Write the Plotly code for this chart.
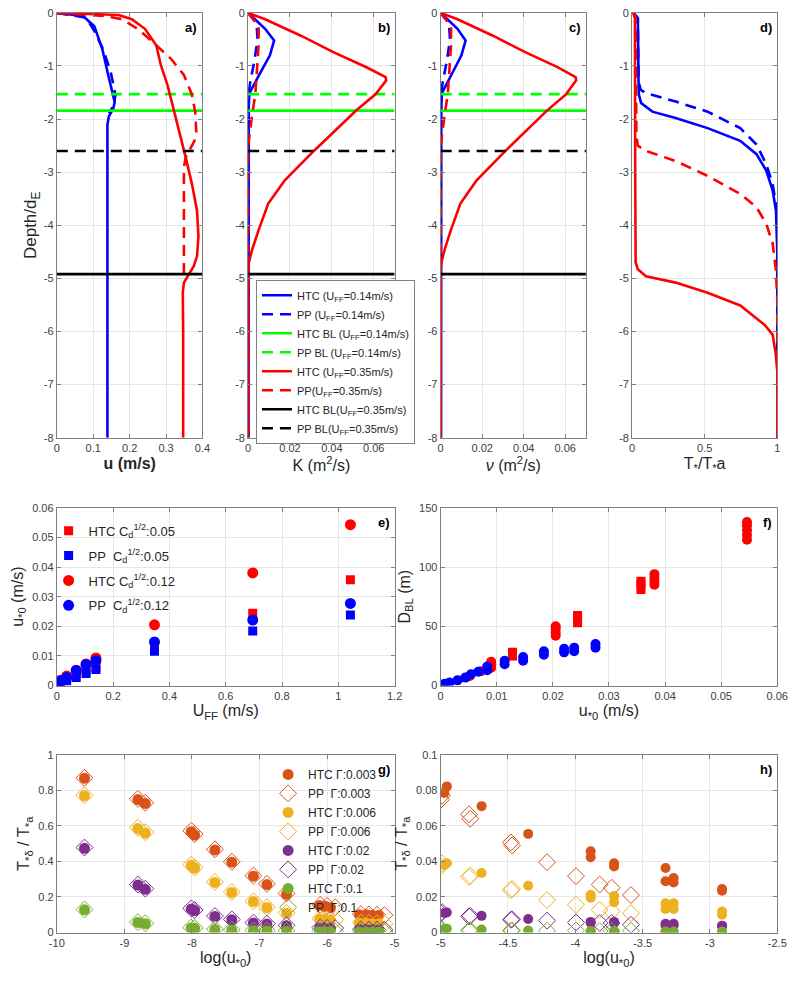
import plotly.graph_objects as go

# ---------------- DATA ----------------
# Panel a: velocity profiles u (m/s) vs Depth/dE
a_htc014_u = [0, 0.072, 0.103, 0.125, 0.139, 0.152, 0.159, 0.155, 0.143, 0.139, 0.139, 0.139]
a_htc014_d = [0, -0.06, -0.25, -0.68, -1.11, -1.45, -1.68, -1.80, -1.95, -2.10, -5.0, -8.0]
a_pp014_u = [0, 0.080, 0.103, 0.128, 0.148, 0.161, 0.157, 0.143]
a_pp014_d = [0, -0.09, -0.34, -0.70, -1.11, -1.54, -1.73, -1.89]
a_htc035_u = [0, 0.170, 0.206, 0.242, 0.273, 0.286, 0.304, 0.318, 0.327, 0.340, 0.354, 0.371,
              0.385, 0.389, 0.385, 0.376, 0.362, 0.349, 0.346, 0.347, 0.347]
a_htc035_d = [0, -0.04, -0.12, -0.30, -0.61, -0.99, -1.36, -1.73, -1.98, -2.35, -2.72, -3.22,
              -3.72, -4.21, -4.58, -4.77, -4.92, -5.08, -5.27, -6.0, -8.0]
a_pp035_u = [0, 0.134, 0.179, 0.224, 0.273, 0.313, 0.349, 0.371, 0.380, 0.383, 0.378, 0.362,
             0.354, 0.349, 0.349]
a_pp035_d = [0, -0.06, -0.12, -0.31, -0.61, -0.86, -1.17, -1.54, -1.86, -2.23, -2.41, -2.60,
             -2.72, -2.91, -4.95]

# Boundary-layer depths (Depth/dE): HTC 0.14, PP 0.14, HTC 0.35, PP 0.35
bl_depths = [-1.84, -1.53, -4.92, -2.60]

# Panel b: eddy diffusivity K (m2/s)
b_htc014_k = [0, 0.0034, 0.0081, 0.0124, 0.0104, 0.0065, 0.0027, 0.0006, 0.0003, 0.0002, 0.0002]
b_htc014_d = [0, -0.12, -0.30, -0.52, -0.80, -1.08, -1.36, -1.51, -1.75, -4.0, -8.0]
b_pp014_k = [0, 0.0040, 0.0045, 0.0030, 0.0010, 0.0001, 0, 0]
b_pp014_d = [0, -0.20, -0.50, -0.90, -1.30, -1.55, -4.0, -8.0]
b_htc035_k = [0, 0.0081, 0.0252, 0.0407, 0.0563, 0.0657, 0.0660, 0.0610, 0.0516, 0.0314,
              0.0174, 0.0096, 0.0050, 0.0019, 0.0003, 0, 0]
b_htc035_d = [0, -0.12, -0.43, -0.74, -1.02, -1.21, -1.27, -1.53, -1.84, -2.60,
              -3.16, -3.59, -4.09, -4.46, -4.71, -4.80, -8.0]
b_pp035_k = [0, 0.0050, 0.0050, 0.0042, 0.0034, 0.0019, 0.0005, 0, 0]
b_pp035_d = [0, -0.24, -0.61, -1.10, -1.54, -1.92, -2.35, -2.50, -8.0]

# Panel c: viscosity nu (m2/s)
c_htc014_nu = [0, 0.0034, 0.0081, 0.0120, 0.0100, 0.0063, 0.0026, 0.0006, 0.0003, 0.0002, 0.0002]
c_htc014_d = [0, -0.12, -0.30, -0.52, -0.80, -1.08, -1.36, -1.51, -1.75, -4.0, -8.0]
c_pp014_nu = [0, 0.0040, 0.0045, 0.0030, 0.0010, 0.0001, 0, 0]
c_pp014_d = [0, -0.20, -0.50, -0.90, -1.30, -1.55, -4.0, -8.0]
c_htc035_nu = [0, 0.0081, 0.0252, 0.0407, 0.0563, 0.0650, 0.0653, 0.0605, 0.0512, 0.0312,
               0.0172, 0.0095, 0.0049, 0.0019, 0.0003, 0, 0]
c_htc035_d = [0, -0.12, -0.43, -0.74, -1.02, -1.21, -1.27, -1.53, -1.84, -2.60,
              -3.16, -3.59, -4.09, -4.46, -4.71, -4.80, -8.0]
c_pp035_nu = [0, 0.0050, 0.0050, 0.0042, 0.0034, 0.0019, 0.0005, 0, 0]
c_pp035_d = [0, -0.24, -0.61, -1.10, -1.54, -1.92, -2.35, -2.50, -8.0]

# Panel d: T*/T*a
d_htc014_t = [0.011, 0.040, 0.045, 0.047, 0.063, 0.14, 0.30, 0.52, 0.745, 0.857, 0.924, 0.968, 0.991, 0.997, 1.0, 1.0]
d_htc014_d = [0, -0.10, -1.30, -1.54, -1.70, -1.86, -1.98, -2.17, -2.41, -2.66, -2.97, -3.34, -3.72, -4.09, -4.5, -8.0]
d_pp014_t = [0.011, 0.040, 0.045, 0.060, 0.096, 0.30, 0.52, 0.745, 0.857, 0.924, 0.968, 0.990, 1.0, 1.0]
d_pp014_d = [0, -0.10, -1.30, -1.45, -1.51, -1.67, -1.86, -2.17, -2.48, -2.85, -3.22, -3.60, -4.0, -8.0]
d_htc035_t = [0.007, 0.020, 0.022, 0.025, 0.040, 0.096, 0.30, 0.52, 0.745, 0.857, 0.915, 0.968, 0.99, 1.0, 1.0]
d_htc035_d = [0, -0.10, -3.0, -4.70, -4.83, -4.96, -5.08, -5.27, -5.51, -5.76, -5.88, -6.06, -6.44, -6.75, -8.0]
d_pp035_t = [0.015, 0.025, 0.030, 0.040, 0.096, 0.30, 0.52, 0.745, 0.857, 0.924, 0.968, 0.99, 1.0, 1.0]
d_pp035_d = [0, -0.10, -2.30, -2.50, -2.60, -2.79, -3.07, -3.41, -3.66, -3.97, -4.34, -4.83, -5.4, -8.0]

# Panel e: u*0 vs UFF
e_uff = [0.0035, 0.007, 0.014, 0.035, 0.069, 0.104, 0.139, 0.347, 0.696, 1.043]
e_htc_005 = [0.0003, 0.0006, 0.0011, 0.0023, 0.0041, 0.0051, 0.0061, 0.0132, 0.0244, 0.0357]
e_pp_005 = [0.0003, 0.0005, 0.0010, 0.0016, 0.0027, 0.0041, 0.0054, 0.0116, 0.0184, 0.0238]
e_htc_012 = [0.0006, 0.0011, 0.0018, 0.0032, 0.0052, 0.0073, 0.0093, 0.0205, 0.0380, 0.0543]
e_pp_012 = [0.0005, 0.0010, 0.0016, 0.0027, 0.0051, 0.0071, 0.0084, 0.0147, 0.0221, 0.0277]

# Panel f: D_BL vs u*0
f_htc_sq_u = [0.0128, 0.0128, 0.0244, 0.0244, 0.0244, 0.0357, 0.0357, 0.0357]
f_htc_sq_d = [25, 28, 53, 56, 59, 81, 85, 88]
f_htc_ci_u = [0.0546, 0.0546, 0.0546, 0.0546, 0.0546, 0.0381, 0.0381, 0.0381, 0.0381,
              0.0205, 0.0205, 0.0205, 0.0205, 0.0090, 0.0090, 0.0090, 0.0072, 0.0052]
f_htc_ci_d = [123, 127, 131, 135, 138, 85, 88, 91, 94, 42, 45, 48, 50, 15, 18, 20, 12, 8]
f_pp_ci_u = [0.0276, 0.0276, 0.0238, 0.0238, 0.0220, 0.0220, 0.0184, 0.0184, 0.0147, 0.0147,
             0.0114, 0.0114, 0.0083, 0.0083, 0.0067, 0.0054, 0.0044, 0.0030, 0.0016, 0.0008, 0.0003]
f_pp_ci_d = [32, 35, 29, 32, 28, 31, 26, 29, 21, 24, 18, 21, 13, 16, 11.7, 9.5, 6.7, 4.4, 2.5, 1.5, 0.8]

# Panel g: T*delta/T*a vs log(u*0)
g_x_htc = [-9.59, -8.80, -8.69, -8.01, -7.96, -7.66, -7.41, -7.09, -6.89, -6.60,
           -6.11, -6.03, -5.95, -5.52, -5.42, -5.33, -5.24]
g_x_pp = [-9.59, -8.80, -8.69, -8.01, -7.96, -7.66, -7.41, -7.09, -6.89, -6.60,
          -6.10, -6.00, -5.88, -5.50, -5.38, -5.26, -5.15]
g_htc_0003 = [0.868, 0.748, 0.726, 0.567, 0.548, 0.465, 0.396, 0.317, 0.270, 0.215,
              0.152, 0.148, 0.140, 0.100, 0.100, 0.098, 0.096]
g_pp_0003 = [0.870, 0.752, 0.730, 0.572, 0.554, 0.468, 0.398, 0.320, 0.274, 0.220,
             0.156, 0.150, 0.142, 0.104, 0.102, 0.100, 0.098]
g_htc_0006 = [0.770, 0.585, 0.560, 0.378, 0.363, 0.282, 0.226, 0.174, 0.141, 0.109,
              0.076, 0.074, 0.070, 0.054, 0.052, 0.050, 0.048]
g_pp_0006 = [0.772, 0.590, 0.565, 0.382, 0.366, 0.285, 0.228, 0.176, 0.143, 0.111,
             0.078, 0.075, 0.072, 0.056, 0.054, 0.052, 0.050]
g_htc_002 = [0.474, 0.267, 0.243, 0.133, 0.124, 0.091, 0.072, 0.054, 0.048, 0.039,
             0.026, 0.025, 0.024, 0.017, 0.016, 0.016, 0.015]
g_pp_002 = [0.478, 0.270, 0.247, 0.136, 0.127, 0.093, 0.074, 0.056, 0.050, 0.041,
            0.028, 0.026, 0.025, 0.018, 0.017, 0.017, 0.016]
g_htc_01 = [0.128, 0.057, 0.050, 0.026, 0.024, 0.017, 0.013, 0.010, 0.009, 0.007,
            0.005, 0.005, 0.005, 0.003, 0.003, 0.003, 0.003]
g_pp_01 = [0.130, 0.059, 0.052, 0.028, 0.026, 0.019, 0.015, 0.012, 0.011, 0.009,
           0.007, 0.006, 0.006, 0.005, 0.005, 0.004, 0.004]

# Panel h: T*delta/T*a vs log(u*0)
h_x_htc = [-4.954, -4.973, -4.696, -4.35, -3.886, -3.886, -3.712, -3.712, -3.33, -3.33,
           -3.27, -3.27, -2.91, -2.91]
h_htc_0003 = [0.0822, 0.0785, 0.0711, 0.0555, 0.0457, 0.0424, 0.0390, 0.0372, 0.0363, 0.0289,
              0.0307, 0.0282, 0.0245, 0.0235]
h_htc_0006 = [0.0390, 0.0380, 0.0335, 0.0263, 0.0211, 0.0196, 0.0205, 0.0170, 0.0165, 0.0133,
              0.0165, 0.0133, 0.0118, 0.0100]
h_htc_002 = [0.0113, 0.0110, 0.0094, 0.0076, 0.0060, 0.0055, 0.0060, 0.0054, 0.0050, 0.0040,
             0.0050, 0.0040, 0.0039, 0.0036]
h_htc_01 = [0.0022, 0.0020, 0.0017, 0.0012, 0.0008, 0.0007, 0.0008, 0.0007, 0.0006, 0.0005,
            0.0006, 0.0005, 0.0005, 0.0004]
h_x_pp = [-4.998, -4.99, -4.79, -4.78, -4.478, -4.47, -4.21, -3.995, -3.819, -3.73, -3.587]
h_pp_0003 = [0.0748, 0.0770, 0.0665, 0.0640, 0.0507, 0.0490, 0.0396, 0.0317, 0.0270, 0.0252, 0.0211]
h_pp_0006 = [0.0374, 0.0390, 0.0313, 0.0320, 0.0239, 0.0245, 0.0183, 0.0156, 0.0128, 0.0118, 0.0109]
h_pp_002 = [0.0109, 0.0115, 0.0091, 0.0094, 0.0072, 0.0075, 0.0067, 0.0057, 0.0054, 0.0054, 0.0044]
h_pp_01 = [0.0015, 0.0018, 0.0012, 0.0014, 0.0011, 0.0012, 0.0010, 0.0012, 0.0009, 0.0009, 0.0010]

# Tick labels
depth_ticks = [0, -1, -2, -3, -4, -5, -6, -7, -8]
g_xticks = [-10, -9, -8, -7, -6, -5]
h_xticks = [-5, -4.5, -4, -3.5, -3, -2.5]

# ---------------- STYLE ----------------
FONT = "Liberation Sans, Arial, sans-serif"
BLUE, RED, GREEN, BLACK = "#0000ff", "#ff0000", "#00ff00", "#000000"
C1, C2, C3, C4 = "#D95319", "#EDB120", "#7E2F8E", "#77AC30"
LW = 2.6
DASH = "11px,7px"

fig = go.Figure()

legend_names = [
    "HTC (U<sub>FF</sub>=0.14m/s)", "PP (U<sub>FF</sub>=0.14m/s)",
    "HTC BL (U<sub>FF</sub>=0.14m/s)", "PP BL (U<sub>FF</sub>=0.14m/s)",
    "HTC (U<sub>FF</sub>=0.35m/s)", "PP(U<sub>FF</sub>=0.35m/s)",
    "HTC BL(U<sub>FF</sub>=0.35m/s)", "PP BL(U<sub>FF</sub>=0.35m/s)",
]

profile_sets = [
    ("x", "y", 0.4, [(a_htc014_u, a_htc014_d), (a_pp014_u, a_pp014_d), (a_htc035_u, a_htc035_d), (a_pp035_u, a_pp035_d)], True),
    ("x2", "y2", 0.07, [(b_htc014_k, b_htc014_d), (b_pp014_k, b_pp014_d), (b_htc035_k, b_htc035_d), (b_pp035_k, b_pp035_d)], True),
    ("x3", "y3", 0.07, [(c_htc014_nu, c_htc014_d), (c_pp014_nu, c_pp014_d), (c_htc035_nu, c_htc035_d), (c_pp035_nu, c_pp035_d)], True),
    ("x4", "y4", 1.0, [(d_htc014_t, d_htc014_d), (d_pp014_t, d_pp014_d), (d_htc035_t, d_htc035_d), (d_pp035_t, d_pp035_d)], False),
]

for xa, ya, xmax, profs, with_bl in profile_sets:
    show = (xa == "x2")
    order = [
        ("prof", 0, BLUE, "solid", 0),
        ("prof", 1, BLUE, DASH, 1),
        ("bl", 0, GREEN, "solid", 2),
        ("bl", 1, GREEN, DASH, 3),
        ("prof", 2, RED, "solid", 4),
        ("prof", 3, RED, DASH, 5),
        ("bl", 2, BLACK, "solid", 6),
        ("bl", 3, BLACK, DASH, 7),
    ]
    for kind, idx, col, dash, li in order:
        if kind == "prof":
            xs, ys = profs[idx]
        else:
            if not with_bl:
                continue
            xs, ys = [0, xmax], [bl_depths[idx], bl_depths[idx]]
        fig.add_trace(go.Scatter(
            x=xs, y=ys, mode="lines", xaxis=xa, yaxis=ya,
            line=dict(color=col, width=LW, dash=dash),
            name=legend_names[li], showlegend=show, legend="legend",
        ))

# Panel e
e_series = [
    ("HTC C<sub>d</sub><sup>1/2</sup>:0.05", e_htc_005, RED, "square", 9),
    ("PP  C<sub>d</sub><sup>1/2</sup>:0.05", e_pp_005, BLUE, "square", 9),
    ("HTC C<sub>d</sub><sup>1/2</sup>:0.12", e_htc_012, RED, "circle", 11),
    ("PP  C<sub>d</sub><sup>1/2</sup>:0.12", e_pp_012, BLUE, "circle", 11),
]
for k, (nm, ys, col, sym, sz) in enumerate(e_series):
    fig.add_trace(go.Scatter(x=e_uff, y=ys, mode="markers", xaxis="x5", yaxis="y5",
                             marker=dict(color=col, symbol=sym, size=sz, line=dict(width=0)),
                             name=nm, legend="legend2", legendgroup="e%d" % k))

# Panel f
fig.add_trace(go.Scatter(x=f_htc_sq_u, y=f_htc_sq_d, mode="markers", xaxis="x6", yaxis="y6",
                         marker=dict(color=RED, symbol="square", size=9, line=dict(width=0)), showlegend=False))
fig.add_trace(go.Scatter(x=f_htc_ci_u, y=f_htc_ci_d, mode="markers", xaxis="x6", yaxis="y6",
                         marker=dict(color=RED, symbol="circle", size=10, line=dict(width=0)), showlegend=False))
fig.add_trace(go.Scatter(x=f_pp_ci_u, y=f_pp_ci_d, mode="markers", xaxis="x6", yaxis="y6",
                         marker=dict(color=BLUE, symbol="circle", size=10, line=dict(width=0)), showlegend=False))

# Panels g and h
gh_series = [
    ("HTC \u0393:0.003", "PP  \u0393:0.003", C1, g_htc_0003, g_pp_0003, h_htc_0003, h_pp_0003),
    ("HTC \u0393:0.006", "PP  \u0393:0.006", C2, g_htc_0006, g_pp_0006, h_htc_0006, h_pp_0006),
    ("HTC \u0393:0.02", "PP  \u0393:0.02", C3, g_htc_002, g_pp_002, h_htc_002, h_pp_002),
    ("HTC \u0393:0.1", "PP  \u0393:0.1", C4, g_htc_01, g_pp_01, h_htc_01, h_pp_01),
]
for nh, npp, col, gh, gp, hh, hp in gh_series:
    fig.add_trace(go.Scatter(x=g_x_htc, y=gh, mode="markers", xaxis="x7", yaxis="y7",
                             marker=dict(color=col, symbol="circle", size=11, line=dict(width=0)),
                             name=nh, legend="legend3"))
    fig.add_trace(go.Scatter(x=g_x_pp, y=gp, mode="markers", xaxis="x7", yaxis="y7",
                             marker=dict(color=col, symbol="diamond-open", size=13, line=dict(width=1)),
                             name=npp, legend="legend3"))
    fig.add_trace(go.Scatter(x=h_x_htc, y=hh, mode="markers", xaxis="x8", yaxis="y8",
                             marker=dict(color=col, symbol="circle", size=10, line=dict(width=0)),
                             showlegend=False))
    fig.add_trace(go.Scatter(x=h_x_pp, y=hp, mode="markers", xaxis="x8", yaxis="y8",
                             marker=dict(color=col, symbol="diamond-open", size=13, line=dict(width=1)),
                             showlegend=False))

# ---------------- AXES ----------------
AX = dict(showline=True, linecolor="#808080", linewidth=1, mirror="ticks", ticks="inside",
          ticklen=4, tickcolor="#808080", showgrid=True, gridcolor="#e6e6e6", gridwidth=1,
          zeroline=False, tickfont=dict(family=FONT, size=11, color="#404040"))

def fmt(v):
    return "%g" % v

col_top = [[0.0625, 0.249], [0.3075, 0.495], [0.554, 0.74], [0.799, 0.985]]
col_bot = [[0.0625, 0.495], [0.554, 0.985]]
row_top = [0.5545, 0.9929]
row_mid = [0.2987, 0.4822]
row_bot = [0.0438, 0.2273]

TF = dict(family=FONT, size=16, color="#262626")

layout = {}
top_titles = ["<b>u (m/s)</b>", "K (m<sup>2</sup>/s)", "<i>\u03bd</i> (m<sup>2</sup>/s)", "T<sub>*</sub>/T<sub>*</sub>a"]
top_ranges = [[0, 0.4], [0, 0.07], [0, 0.07], [0, 1]]
top_dticks = [0.1, 0.02, 0.02, 0.5]
for i in range(4):
    sx = "" if i == 0 else str(i + 1)
    layout["xaxis" + sx] = dict(AX, domain=col_top[i], range=top_ranges[i], dtick=top_dticks[i],
                                anchor="y" + sx, title=dict(text=top_titles[i], font=TF, standoff=4))
    layout["yaxis" + sx] = dict(AX, domain=row_top, range=[-8, 0], anchor="x" + sx,
                                tickvals=depth_ticks, ticktext=[fmt(v) for v in depth_ticks])
layout["yaxis"]["title"] = dict(text="Depth/d<sub>E</sub>", font=dict(family=FONT, size=17, color="#262626"), standoff=2)

# e
layout["xaxis5"] = dict(AX, domain=col_bot[0], range=[0, 1.2], dtick=0.2, anchor="y5",
                        title=dict(text="U<sub>FF</sub> (m/s)", font=TF, standoff=4))
layout["yaxis5"] = dict(AX, domain=row_mid, range=[0, 0.06], dtick=0.01, anchor="x5",
                        title=dict(text="u<sub>*0</sub> (m/s)", font=TF, standoff=4))
# f
layout["xaxis6"] = dict(AX, domain=col_bot[1], range=[0, 0.06], dtick=0.01, anchor="y6",
                        title=dict(text="u<sub>*0</sub> (m/s)", font=TF, standoff=4))
layout["yaxis6"] = dict(AX, domain=row_mid, range=[0, 150], dtick=50, anchor="x6",
                        title=dict(text="D<sub>BL</sub> (m)", font=TF, standoff=4))
# g
layout["xaxis7"] = dict(AX, domain=col_bot[0], range=[-10, -5], anchor="y7",
                        tickvals=g_xticks, ticktext=[fmt(v) for v in g_xticks],
                        title=dict(text="log(u<sub>*0</sub>)", font=TF, standoff=4))
layout["yaxis7"] = dict(AX, domain=row_bot, range=[0, 1], dtick=0.2, anchor="x7",
                        title=dict(text="T<sub>*\u03b4</sub> / T<sub>*a</sub>", font=TF, standoff=4))
# h
layout["xaxis8"] = dict(AX, domain=col_bot[1], range=[-5, -2.5], anchor="y8",
                        tickvals=h_xticks, ticktext=[fmt(v) for v in h_xticks],
                        title=dict(text="log(u<sub>*0</sub>)", font=TF, standoff=4))
layout["yaxis8"] = dict(AX, domain=row_bot, range=[0, 0.1], dtick=0.02, anchor="x8",
                        title=dict(text="T<sub>*\u03b4</sub> / T<sub>*a</sub>", font=TF, standoff=4))

fig.update_layout(**layout)

# panel labels
labels = ["a)", "b)", "c)", "d)", "e)", "f)", "g)", "h)"]
ax_ids = ["", "2", "3", "4", "5", "6", "7", "8"]
for lab, sx in zip(labels, ax_ids):
    fig.add_annotation(text="<b>%s</b>" % lab, xref=("x%s domain" % sx), yref=("y%s domain" % sx),
                       x=1, y=1, xanchor="right", yanchor="top", xshift=-3, yshift=-5,
                       showarrow=False, font=dict(family=FONT, size=13, color="#000000"))

fig.update_layout(
    width=800, height=981,
    margin=dict(l=0, r=0, t=0, b=0),
    paper_bgcolor="white", plot_bgcolor="white",
    font=dict(family=FONT, color="#262626"),
    legend=dict(x=0.3175, y=0.7175, xanchor="left", yanchor="top", bgcolor="white",
                bordercolor="#808080", borderwidth=1, font=dict(family=FONT, size=11, color="#262626"),
                tracegroupgap=0),
    legend2=dict(x=0.052, y=0.474, xanchor="left", yanchor="top", bgcolor="rgba(0,0,0,0)",
                 borderwidth=0, font=dict(family=FONT, size=13, color="#262626"),
                 tracegroupgap=5, itemwidth=30),
    legend3=dict(x=0.333, y=0.222, xanchor="left", yanchor="top", bgcolor="rgba(0,0,0,0)",
                 borderwidth=0, font=dict(family=FONT, size=12, color="#262626"),
                 itemwidth=30),
)

fig.write_html("out.html")
